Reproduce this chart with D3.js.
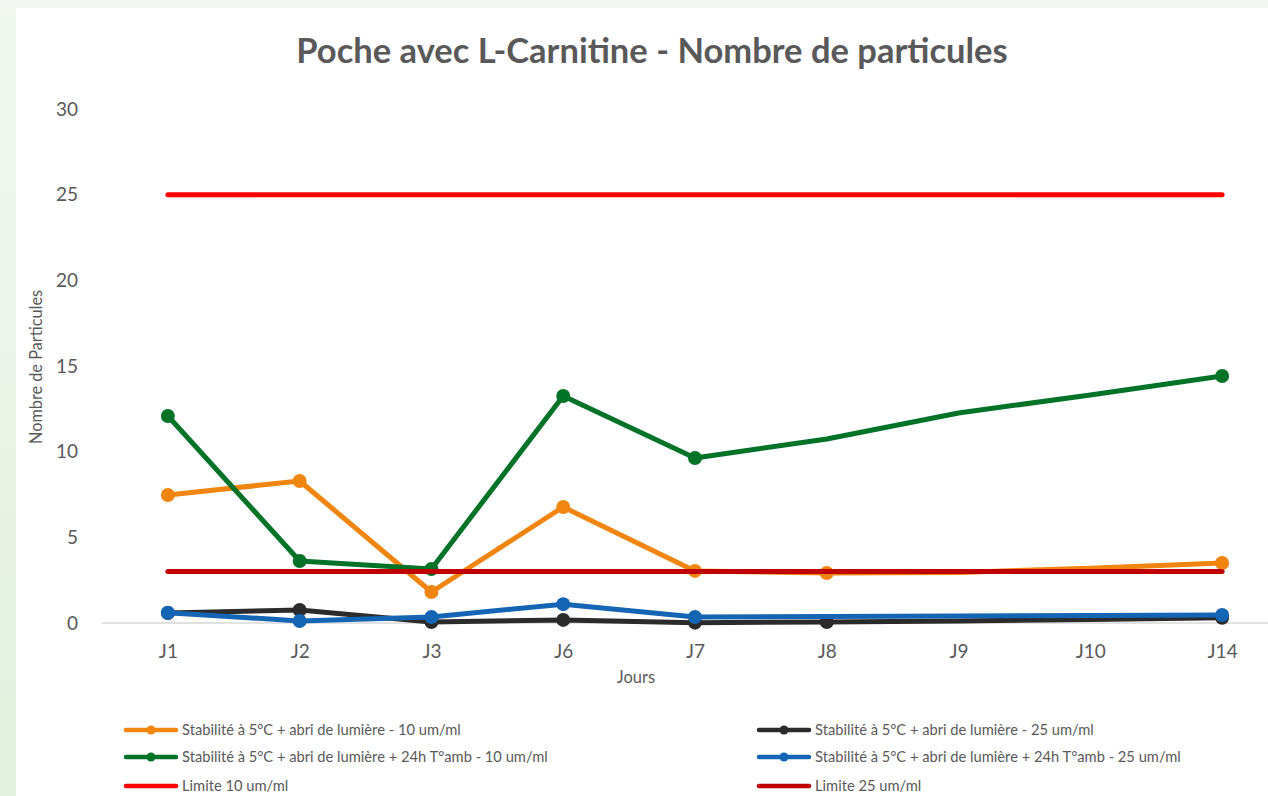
<!DOCTYPE html>
<html>
<head>
<meta charset="utf-8">
<script src="https://cdn.jsdelivr.net/npm/d3@7"></script>
<style>
  body { margin: 0; padding: 0; overflow: hidden; }
  svg { display: block; font-family: Lato, "Open Sans", sans-serif; }
</style>
</head>
<body>
<div id="chart"></div>
<script>
// categories (days)
var jours = ["J1", "J2", "J3", "J6", "J7", "J8", "J9", "J10", "J14"];
var yTicks = [0, 5, 10, 15, 20, 25, 30];

// series values
var orange10 = [7.47, 8.29, 1.81, 6.77, 3.04, 2.92, 2.95, 3.2, 3.5];
var noir25   = [0.58, 0.76, 0.06, 0.18, 0.02, 0.06, 0.12, 0.2, 0.3];
var vert10   = [12.08, 3.62, 3.15, 13.25, 9.63, 10.74, 12.26, 13.31, 14.42];
var bleu25   = [0.6, 0.12, 0.35, 1.1, 0.35, 0.38, 0.41, 0.44, 0.47];
var limite10 = [25, 25, 25, 25, 25, 25, 25, 25, 25];
var limite25 = [3, 3, 3, 3, 3, 3, 3, 3, 3];

// which points carry a marker
var mkOrange = [1, 1, 1, 1, 1, 1, 0, 0, 1];
var mkNoir   = [1, 1, 1, 1, 1, 1, 0, 0, 1];
var mkVert   = [1, 1, 1, 1, 1, 0, 0, 0, 1];
var mkBleu   = [1, 1, 1, 1, 1, 0, 0, 0, 1];
var mkNone   = [0, 0, 0, 0, 0, 0, 0, 0, 0];

var series = [
  {name: "Stabilité à 5°C + abri de lumière - 10 um/ml", values: orange10, mk: mkOrange, color: "#F0850F", marker: true},
  {name: "Stabilité à 5°C + abri de lumière - 25 um/ml", values: noir25, mk: mkNoir, color: "#2B2B2B", marker: true},
  {name: "Stabilité à 5°C + abri de lumière + 24h T°amb - 10 um/ml", values: vert10, mk: mkVert, color: "#007328", marker: true},
  {name: "Stabilité à 5°C + abri de lumière + 24h T°amb - 25 um/ml", values: bleu25, mk: mkBleu, color: "#1565B5", marker: true},
  {name: "Limite 10 um/ml", values: limite10, mk: mkNone, color: "#FF0000", marker: false},
  {name: "Limite 25 um/ml", values: limite25, mk: mkNone, color: "#C00000", marker: false}
];

// draw order as in the picture (limits over orange, blue over black)
var drawOrder = [0, 2, 4, 5, 1, 3];

var W = 1268, H = 796;
var svg = d3.select("#chart").append("svg")
  .attr("width", W).attr("height", H);

var defs = svg.append("defs");
var grad = defs.append("linearGradient").attr("id", "bg")
  .attr("x1", 0).attr("y1", 0).attr("x2", 0).attr("y2", 1);
grad.append("stop").attr("offset", "0%").attr("stop-color", "#F2F8F1");
grad.append("stop").attr("offset", "100%").attr("stop-color", "#E2F0DD");

svg.append("rect").attr("width", W).attr("height", H).attr("fill", "url(#bg)");
svg.append("rect").attr("x", 16).attr("y", 8).attr("width", W - 16).attr("height", H - 8)
  .attr("fill", "#FFFFFF");

var x = d3.scalePoint().domain(jours).range([102, 1288]).padding(0.5);
var y = d3.scaleLinear().domain([0, 30]).range([623, 109]);

// title
svg.append("text")
  .attr("x", 652).attr("y", 63)
  .attr("text-anchor", "middle")
  .attr("font-size", "34.5px").attr("font-weight", "bold")
  .attr("fill", "#595959")
  .text("Poche avec L-Carnitine - Nombre de particules");

// y axis (labels only)
var yAxis = svg.append("g")
  .attr("transform", "translate(78,0)")
  .call(d3.axisLeft(y).tickValues(yTicks).tickSize(0).tickPadding(0));
yAxis.select(".domain").remove();
yAxis.selectAll("text").attr("font-size", "19px").attr("fill", "#595959")
  .attr("font-family", "Lato, sans-serif");

// x axis
var xAxis = svg.append("g")
  .attr("transform", "translate(0," + y(0) + ")")
  .call(d3.axisBottom(x).tickSize(0).tickPadding(22));
xAxis.select(".domain").attr("d", "M102,0H" + W).attr("stroke", "#D9D9D9").attr("stroke-width", 1.3);
xAxis.selectAll("text").attr("font-size", "19px").attr("fill", "#595959")
  .attr("font-family", "Lato, sans-serif");

// axis titles
svg.append("text")
  .attr("x", 636).attr("y", 683)
  .attr("text-anchor", "middle")
  .attr("font-size", "16.5px").attr("fill", "#595959")
  .text("Jours");
svg.append("text")
  .attr("transform", "translate(42,367) rotate(-90)")
  .attr("text-anchor", "middle")
  .attr("font-size", "16.3px").attr("fill", "#595959")
  .text("Nombre de Particules");

// lines
var line = d3.line()
  .x(function(d, i) { return x(jours[i]); })
  .y(function(d) { return y(d); });

var plot = svg.append("g");
drawOrder.forEach(function(k) {
  var s = series[k];
  var g = plot.append("g");
  g.append("path")
    .datum(s.values)
    .attr("d", line)
    .attr("fill", "none")
    .attr("stroke", s.color)
    .attr("stroke-width", 5)
    .attr("stroke-linecap", "round")
    .attr("stroke-linejoin", "round");
  g.selectAll("circle")
    .data(s.values.map(function(v, i) { return {v: v, i: i}; })
      .filter(function(d) { return s.mk[d.i]; }))
    .enter().append("circle")
    .attr("cx", function(d) { return x(jours[d.i]); })
    .attr("cy", function(d) { return y(d.v); })
    .attr("r", 7)
    .attr("fill", s.color);
});

// legend
var legPos = [
  {x: 124, y: 730}, {x: 757, y: 730},
  {x: 124, y: 757}, {x: 757, y: 757},
  {x: 124, y: 786}, {x: 757, y: 786}
];
var leg = svg.append("g");
series.forEach(function(s, i) {
  var p = legPos[i];
  var g = leg.append("g").attr("transform", "translate(" + p.x + "," + p.y + ")");
  g.append("line")
    .attr("x1", 2).attr("x2", 52).attr("y1", 0).attr("y2", 0)
    .attr("stroke", s.color).attr("stroke-width", 4.5)
    .attr("stroke-linecap", "round");
  if (s.marker) {
    g.append("circle").attr("cx", 27).attr("cy", 0).attr("r", 4.5).attr("fill", s.color);
  }
  g.append("text")
    .attr("x", 58).attr("y", 0).attr("dy", "0.35em")
    .attr("font-size", "14.7px").attr("fill", "#595959")
    .text(s.name);
});
</script>
</body>
</html>
